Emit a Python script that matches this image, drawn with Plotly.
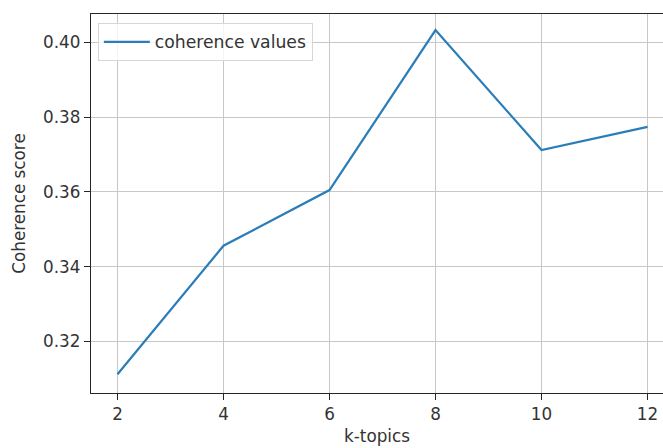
import plotly.graph_objects as go

k_topics = [2, 4, 6, 8, 10, 12]
coherence = [0.3112, 0.3456, 0.3605, 0.4033, 0.3712, 0.3774]
x_ticks = [2, 4, 6, 8, 10, 12]
y_ticks = [0.32, 0.34, 0.36, 0.38, 0.40]
y_tick_text = ["0.32", "0.34", "0.36", "0.38", "0.40"]

FONT = "DejaVu Sans"
TXT = "#333333"
FS = 16.8

fig = go.Figure()
fig.add_trace(go.Scatter(
    x=k_topics, y=coherence, mode="lines", name="coherence values",
    line=dict(color="#2a7db8", width=2.2),
))

fig.update_layout(
    width=663, height=448,
    margin=dict(l=91, r=0, t=14, b=55),
    paper_bgcolor="white", plot_bgcolor="white",
    font=dict(family=FONT, size=FS, color=TXT),
    showlegend=True,
    legend=dict(
        x=0.012, y=0.976, xanchor="left", yanchor="top",
        bgcolor="rgba(255,255,255,0.8)", bordercolor="#d6d6d6", borderwidth=1,
        font=dict(family=FONT, size=17.2, color=TXT),
        itemwidth=46,
    ),
    xaxis=dict(
        range=[1.5, 12.292], tickvals=x_ticks, ticktext=[str(v) for v in x_ticks],
        showgrid=True, gridcolor="#c8c8c8", gridwidth=1.3,
        showline=True, linecolor="#262626", linewidth=1.3, mirror=True,
        ticks="outside", ticklen=6, tickcolor="#262626", tickwidth=1.3,
        zeroline=False,
        title=dict(text="k-topics", font=dict(family=FONT, size=FS, color=TXT), standoff=6),
    ),
    yaxis=dict(
        range=[0.3062, 0.4076], tickvals=y_ticks, ticktext=y_tick_text,
        showgrid=True, gridcolor="#c8c8c8", gridwidth=1.3,
        showline=True, linecolor="#262626", linewidth=1.3, mirror=False,
        ticks="outside", ticklen=6, tickcolor="#262626", tickwidth=1.3,
        zeroline=False,
        title=dict(text="Coherence score", font=dict(family=FONT, size=FS, color=TXT), standoff=13),
    ),
)

fig.write_html("out.html")
